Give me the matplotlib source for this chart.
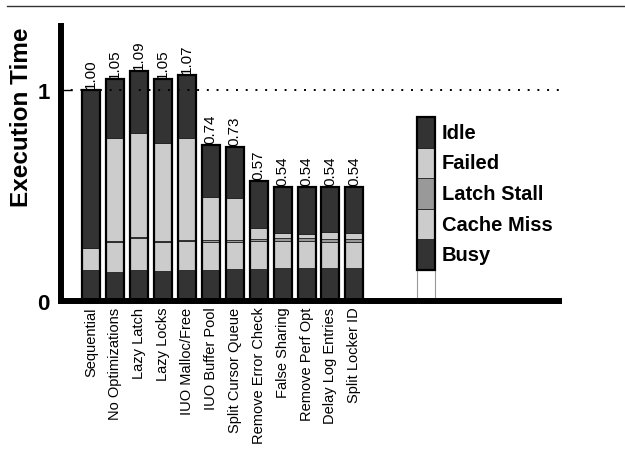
import numpy as np
import matplotlib.pyplot as plt
from matplotlib.lines import Line2D

plt.rcParams['font.family'] = ['Liberation Sans', 'DejaVu Sans']

configs = ["Sequential", "No Optimizations", "Lazy Latch", "Lazy Locks",
           "IUO Malloc/Free", "IUO Buffer Pool", "Split Cursor Queue",
           "Remove Error Check", "False Sharing", "Remove Perf Opt",
           "Delay Log Entries", "Split Locker ID"]
totals = [1.00, 1.05, 1.09, 1.05, 1.07, 0.74, 0.73, 0.57, 0.54, 0.54, 0.54, 0.54]

# time breakdown, bottom to top (idle is whatever is left of the total)
busy = [0.147, 0.139, 0.147, 0.144, 0.147, 0.147, 0.152, 0.152, 0.155, 0.155, 0.156, 0.156]
cache_miss = [0.103, 0.139, 0.153, 0.134, 0.137, 0.134, 0.126, 0.134, 0.128, 0.130, 0.124, 0.124]
latch_stall = [0.0, 0.005, 0.005, 0.005, 0.005, 0.010, 0.010, 0.008, 0.014, 0.014, 0.016, 0.016]
failed = [0.0, 0.488, 0.490, 0.466, 0.484, 0.203, 0.200, 0.052, 0.025, 0.019, 0.030, 0.026]

labels = ["Busy", "Cache Miss", "Latch Stall", "Failed", "Idle"]
colors = ["#333333", "#cccccc", "#999999", "#cccccc", "#333333"]

idle = np.array(totals) - np.array(busy) - np.array(cache_miss) \
    - np.array(latch_stall) - np.array(failed)
parts = [np.array(busy), np.array(cache_miss), np.array(latch_stall),
         np.array(failed), idle]

fig = plt.figure(figsize=(6.25, 4.64), dpi=100)
ax = fig.add_axes([0.0976, 0.349, 0.7968, 0.593])

x = np.arange(len(configs))
w = 0.75
bottom = np.zeros(len(configs))
for p, c in zip(parts, colors):
    ax.bar(x, p, w, bottom=bottom, color=c, edgecolor="#222222", linewidth=0.6, zorder=2)
    bottom += p
# outline around each whole bar
ax.bar(x, totals, w, fill=False, edgecolor="black", linewidth=1.6, zorder=2.5)

for xi, t in zip(x, totals):
    ax.text(xi, t + 0.008, "%.2f" % t, rotation=90, ha="center", va="bottom",
            fontsize=11)

# legend drawn as a stacked bar next to the data
lx = 14
lbase = 0.147
lh = 0.145
ax.bar(lx, lbase, w, bottom=0, color="white", edgecolor="#999999", linewidth=0.8, zorder=1)
for i, (lab, c) in enumerate(zip(labels, colors)):
    b = lbase + i * lh
    ax.bar(lx, lh, w, bottom=b, color=c, edgecolor="#222222", linewidth=0.6, zorder=2)
    ax.text(lx + 0.65, b + lh / 2, lab, ha="left", va="center",
            fontsize=14.5, fontweight="bold")
ax.bar(lx, 5 * lh, w, bottom=lbase, fill=False, edgecolor="black", linewidth=1.6, zorder=2.5)

ax.axhline(1.0, color="black", linestyle=(0, (1, 4)), linewidth=1.4, zorder=3)

ax.set_xlim(-1.25, 19.54)
ax.set_ylim(0, 1.303)
ax.set_yticks([0, 1])
ax.set_yticklabels(["0", "1"], fontsize=16, fontweight="bold")
ax.tick_params(axis="y", direction="in", length=8, width=1, pad=8)
ax.set_xticks(x)
ax.set_xticklabels(configs, rotation=90, fontsize=10.5)
ax.tick_params(axis="x", length=0, pad=4)

ax.set_ylabel("Execution Time", fontsize=17.5, fontweight="bold")
ax.yaxis.set_label_coords(-0.056, 0.673)

for s in ["top", "right"]:
    ax.spines[s].set_visible(False)
ax.spines["left"].set_linewidth(4.3)
ax.spines["bottom"].set_linewidth(4.3)

fig.add_artist(Line2D([0.011, 1.0], [1 - 6.5 / 464, 1 - 6.5 / 464],
                      color="#333333", linewidth=1.0))

fig.savefig("out.png", dpi=100)
